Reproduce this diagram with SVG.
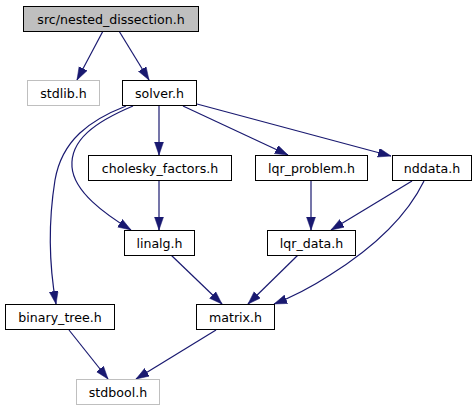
<svg xmlns="http://www.w3.org/2000/svg" width="476" height="411" viewBox="0 0 476 411">
<style>
.n rect{fill:#ffffff;stroke:#000000;stroke-width:1}
.g rect{fill:#ffffff;stroke:#bfbfbf;stroke-width:1}
.root rect{fill:#bfbfbf;stroke:#000000;stroke-width:1}
text{font-family:"DejaVu Sans",sans-serif;font-size:12.6px;fill:#000000;text-anchor:middle}
.e path{fill:none;stroke:#191970;stroke-width:1.2;marker-end:url(#ah)}
</style>
<defs>
<marker id="ah" markerUnits="userSpaceOnUse" markerWidth="14" markerHeight="10" refX="13" refY="4.5" orient="auto">
<path d="M0,0 L13,4.5 L0,9 z" fill="#191970" stroke="#191970" stroke-width="0.5"/>
</marker>
</defs>
<rect width="476" height="411" fill="#ffffff"/>
<g class="e" id="edges">
<path d="M103,31 L77,80"/>
<path d="M119,31 L149,80"/>
<path d="M159,106 L159,155"/>
<path d="M183,106 L288,155"/>
<path d="M197,104 L391,156"/>
<path d="M133,106 C95,122 70,140 72,167 C74,192 105,214 131,230"/>
<path d="M126,106 C90,120 62,140 55,180 C47,230 50,270 56,304"/>
<path d="M159,181 L159,230"/>
<path d="M311,181 L311,230"/>
<path d="M412,181 L331,230"/>
<path d="M424,181 C405,220 370,250 330,275 C310,288 292,297 274,304"/>
<path d="M171,255 L222,304"/>
<path d="M298,255 L248,304"/>
<path d="M69,330 L108,379"/>
<path d="M216,330 L136,379"/>
</g>
<g class="root" id="node-nested"><rect x="23.5" y="6.5" width="175" height="25"/><text x="111" y="23.5">src/nested_dissection.h</text></g>
<g class="g" id="node-stdlib"><rect x="27.5" y="80.5" width="72" height="25"/><text x="63.5" y="97.5">stdlib.h</text></g>
<g class="n" id="node-solver"><rect x="122.5" y="80.5" width="74" height="25"/><text x="159.5" y="97.5">solver.h</text></g>
<g class="n" id="node-cholesky"><rect x="88.5" y="155.5" width="143" height="25"/><text x="160" y="172.5">cholesky_factors.h</text></g>
<g class="n" id="node-lqrproblem"><rect x="255.5" y="155.5" width="112" height="25"/><text x="311.5" y="172.5">lqr_problem.h</text></g>
<g class="n" id="node-nddata"><rect x="392.5" y="155.5" width="79" height="25"/><text x="432" y="172.5">nddata.h</text></g>
<g class="n" id="node-linalg"><rect x="124.5" y="230.5" width="70" height="25"/><text x="159.5" y="247.5">linalg.h</text></g>
<g class="n" id="node-lqrdata"><rect x="267.5" y="230.5" width="88" height="25"/><text x="311.5" y="247.5">lqr_data.h</text></g>
<g class="n" id="node-binarytree"><rect x="5.5" y="304.5" width="109" height="25"/><text x="60" y="321.5">binary_tree.h</text></g>
<g class="n" id="node-matrix"><rect x="196.5" y="304.5" width="78" height="25"/><text x="235.5" y="321.5">matrix.h</text></g>
<g class="g" id="node-stdbool"><rect x="76.5" y="379.5" width="83" height="25"/><text x="118" y="396.5">stdbool.h</text></g>
</svg>
